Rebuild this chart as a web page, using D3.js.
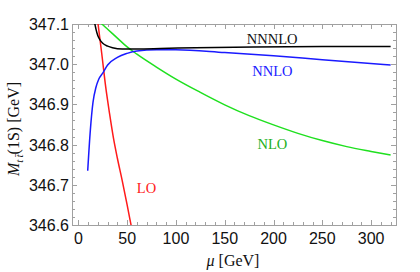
<!DOCTYPE html>
<html>
<head>
<meta charset="utf-8">
<script src="https://cdn.jsdelivr.net/npm/d3@7"></script>
<style>
  body { margin: 0; background: #fff; }
  svg { display: block; }
</style>
</head>
<body>
<svg id="chart"></svg>
<script>
// values: mu [GeV] and M_tt(1S) [GeV]
const loMu   = [16, 20, 24, 28, 32, 36, 40, 45, 50, 54, 58];
const loVal  = [347.19, 347.104, 347.026, 346.944, 346.877, 346.816, 346.766, 346.71, 346.65, 346.6, 346.55];

const nloMu  = [20, 25, 30, 40, 50, 60, 80, 100, 125, 150, 175, 200, 225, 250, 275, 300, 320];
const nloVal = [347.11, 347.098, 347.087, 347.065, 347.043, 347.025, 346.993, 346.963, 346.93, 346.899, 346.872, 346.849, 346.828, 346.81, 346.795, 346.783, 346.774];

const nnloMu  = [9.6, 12.3, 15, 18, 21, 25, 30, 40, 50, 60, 80, 100, 150, 200, 250, 320];
const nnloVal = [346.735, 346.836, 346.905, 346.942, 346.963, 346.978, 346.998, 347.017, 347.027, 347.033, 347.036, 347.036, 347.029, 347.021, 347.011, 346.998];

const n3loMu  = [14, 16, 18, 20, 22, 25, 30, 35, 45, 60, 84, 120, 180, 250, 320];
const n3loVal = [347.17, 347.115, 347.088, 347.071, 347.061, 347.052, 347.045, 347.041, 347.038, 347.038, 347.039, 347.041, 347.043, 347.044, 347.044];

const xTicks = [0, 50, 100, 150, 200, 250, 300];
const yTicks = [346.6, 346.7, 346.8, 346.9, 347.0, 347.1];

// label anchors (mu, value at text baseline)
const curveLabels = [
  { text: 'NNNLO', mu: 198.6, val: 347.0495, color: '#111111' },
  { text: 'NNLO',  mu: 198.8, val: 346.9706, color: '#2020ff' },
  { text: 'NLO',   mu: 198.8, val: 346.790,  color: '#22b022' },
  { text: 'LO',    mu: 69.8,  val: 346.6796, color: '#ff2020' }
];

const series = [
  { mu: loMu,   val: loVal,   color: '#ff1a1a' },
  { mu: nloMu,  val: nloVal,  color: '#1fe01f' },
  { mu: nnloMu, val: nnloVal, color: '#1a1aff' },
  { mu: n3loMu, val: n3loVal, color: '#000000' }
];

const width = 420, height = 272;
const margin = { top: 24, right: 24, bottom: 47, left: 72 };
const innerW = width - margin.left - margin.right;
const innerH = height - margin.top - margin.bottom;

const svg = d3.select('#chart').attr('width', width).attr('height', height);
const chart = svg.append('g').attr('transform', `translate(${margin.left},${margin.top})`);

const x = d3.scaleLinear().domain([-6.5, 325.5]).range([0, innerW]);
const y = d3.scaleLinear().domain([346.6, 347.1]).range([innerH, 0]);

svg.append('defs').append('clipPath').attr('id', 'clip')
  .append('rect').attr('width', innerW).attr('height', innerH);

// frame ticks (major + minor, inside, all four sides)
const frameColor = '#a0a0a0';
const xMinor = d3.range(0, 330, 10).filter(v => xTicks.indexOf(v) < 0);
const yMinor = d3.range(0, 26).map(i => +(346.6 + i * 0.02).toFixed(2)).filter(v => !yTicks.some(t => Math.abs(t - v) < 1e-6));

const tickG = chart.append('g').attr('stroke', frameColor).attr('stroke-width', 1);
function xTickMarks(vals, len) {
  vals.forEach(v => {
    const px = Math.round(x(v)) + 0.5;
    tickG.append('line').attr('x1', px).attr('x2', px).attr('y1', innerH).attr('y2', innerH - len);
    tickG.append('line').attr('x1', px).attr('x2', px).attr('y1', 0).attr('y2', len);
  });
}
function yTickMarks(vals, len) {
  vals.forEach(v => {
    const py = Math.round(y(v)) + 0.5;
    tickG.append('line').attr('x1', 0).attr('x2', len).attr('y1', py).attr('y2', py);
    tickG.append('line').attr('x1', innerW).attr('x2', innerW - len).attr('y1', py).attr('y2', py);
  });
}
xTickMarks(xTicks, 5);
xTickMarks(xMinor, 3);
yTickMarks(yTicks, 5);
yTickMarks(yMinor, 3);

chart.append('rect')
  .attr('x', 0.5).attr('y', 0.5)
  .attr('width', innerW).attr('height', innerH)
  .attr('fill', 'none').attr('stroke', frameColor);

// tick labels
const tickFont = '"Liberation Sans", Arial, sans-serif';
chart.selectAll('.xlab').data(xTicks).join('text')
  .attr('class', 'xlab')
  .attr('x', d => x(d))
  .attr('y', innerH + 19)
  .attr('text-anchor', 'middle')
  .style('font-family', tickFont).style('font-size', '16px').attr('fill', '#111')
  .text(d => d);

chart.selectAll('.ylab').data(yTicks).join('text')
  .attr('class', 'ylab')
  .attr('x', -3)
  .attr('y', d => y(d) + 6)
  .attr('text-anchor', 'end')
  .style('font-family', tickFont).style('font-size', '16px').attr('fill', '#111')
  .text(d => d.toFixed(1));

// curves
const line = d3.line()
  .x(d => x(d[0]))
  .y(d => y(d[1]))
  .curve(d3.curveMonotoneX);

const curves = chart.append('g').attr('clip-path', 'url(#clip)');
series.forEach(s => {
  const pts = s.mu.map((m, i) => [m, s.val[i]]);
  curves.append('path')
    .datum(pts)
    .attr('d', line)
    .attr('fill', 'none')
    .attr('stroke', s.color)
    .attr('stroke-width', 1.5);
});

// curve labels
const serif = '"Liberation Serif", "Times New Roman", serif';
chart.selectAll('.clab').data(curveLabels).join('text')
  .attr('class', 'clab')
  .attr('x', d => x(d.mu))
  .attr('y', d => y(d.val))
  .attr('text-anchor', 'middle')
  .style('font-family', serif).style('font-size', '14.5px')
  .attr('fill', d => d.color)
  .text(d => d.text);

// axis titles
const xt = svg.append('text')
  .attr('x', margin.left + innerW / 2 - 1)
  .attr('y', 266)
  .attr('text-anchor', 'middle')
  .style('font-family', serif).style('font-size', '16px').attr('fill', '#111');
xt.append('tspan').style('font-style', 'italic').text('\u03bc');
xt.append('tspan').text(' [GeV]');

const yt = svg.append('text')
  .attr('transform', 'rotate(-90)')
  .attr('x', -129)
  .attr('y', 19)
  .attr('text-anchor', 'middle')
  .style('font-family', serif).style('font-size', '16px').attr('fill', '#111');
yt.append('tspan').style('font-style', 'italic').text('M');
yt.append('tspan').style('font-style', 'italic').style('font-size', '11px').attr('dy', 4).text('t\u2009t\u0304');
yt.append('tspan').attr('dy', -4).text('(1S) [GeV]');
</script>
</body>
</html>
